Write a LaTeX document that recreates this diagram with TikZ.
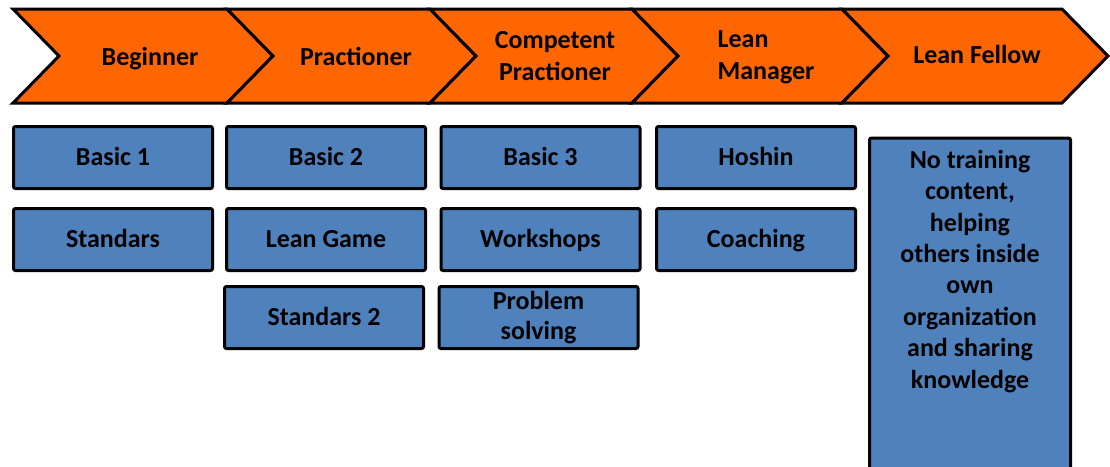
\documentclass[tikz,border=0pt]{standalone}
\usepackage{fontspec}
\setmainfont{Carlito}
\definecolor{leanorange}{HTML}{FF6600}
\definecolor{leanblue}{HTML}{4F81BD}
\tikzset{
  stage/.style={fill=leanorange, draw=black, line width=3pt, line join=miter},
  stagetext/.style={font=\bfseries\fontsize{26}{32}\selectfont, align=center, inner sep=0pt, anchor=base},
  topic/.style={fill=leanblue, draw=black, line width=3pt, rounded corners=2pt,
    minimum width=199pt, minimum height=62pt, inner sep=0pt,
    font=\bfseries\fontsize{26}{30}\selectfont, align=center},
  oneline/.style={text height=16pt, text depth=0pt},
}
\begin{document}
\begin{tikzpicture}[x=1pt, y=-1pt]
  \useasboundingbox (0,0) rectangle (1110,466);
  % stages
  \foreach \a/\b in {13/227, 227/430, 430/632, 632/842, 842/1062}
    \draw[stage] (\a,9) -- (\b,9) -- (\b+46,56) -- (\b,103) -- (\a,103) -- (\a+46,56) -- cycle;
  \node[stagetext] (beginner) at (150,65) {Beginner};
  \node[stagetext] (practioner) at (356,65) {Practioner};
  \node[stagetext] (competent) at (555,80) {Competent\\Practioner};
  \node[stagetext, align=left] (manager) at (766,79) {Lean\\Manager};
  \node[stagetext] (fellow) at (977,63) {Lean Fellow};
  % training content
  \node[topic, oneline] (basic1) at (113,157.5) {Basic 1};
  \node[topic, oneline] (standars) at (113,239.5) {Standars};
  \node[topic, oneline] (basic2) at (326,157.5) {Basic 2};
  \node[topic, oneline] (leangame) at (326,239.5) {Lean Game};
  \node[topic, oneline] (standars2) at (324,317.5) {Standars 2};
  \node[topic, oneline] (basic3) at (540.5,157.5) {Basic 3};
  \node[topic, oneline] (workshops) at (540.5,239.5) {Workshops};
  \node[topic] (problem) at (538.5,317.5) {Problem\\solving};
  \node[topic, oneline] (hoshin) at (756,157.5) {Hoshin};
  \node[topic, oneline] (coaching) at (756,239.5) {Coaching};
  \node[topic, minimum width=201pt, minimum height=360pt, anchor=north] (fellowbox) at (970,136.5) {};
  \node[stagetext, font=\bfseries\fontsize{26}{31.4}\selectfont] (fellowtext) at (970,388)
    {No training\\content,\\helping\\others inside\\own\\organization\\and sharing\\knowledge};
\end{tikzpicture}
\end{document}
